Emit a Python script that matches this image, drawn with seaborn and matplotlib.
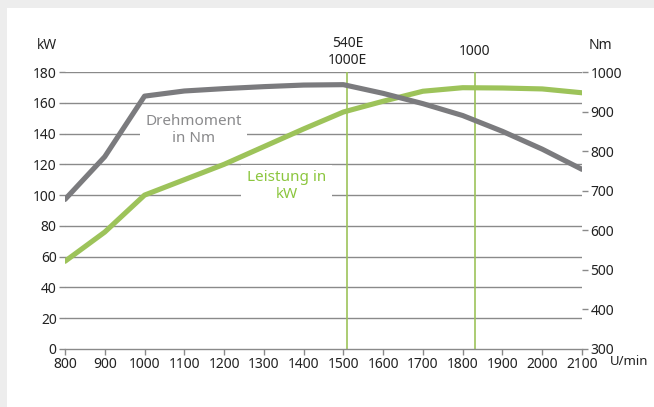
import matplotlib
matplotlib.use("Agg")
import matplotlib.pyplot as plt
import matplotlib.patches as mpatches
import pandas as pd
import seaborn as sns

# Drehzahl (U/min)
rpm = [800, 900, 1000, 1100, 1200, 1300, 1400, 1500, 1600, 1700, 1800, 1900, 2000, 2100]
# Leistung in kW
leistung_kw = [57, 76, 100, 110, 120, 131.5, 143, 154, 161, 167.5, 169.8, 169.6, 169, 166.5]
# Drehmoment in Nm
drehmoment_nm = [678, 786, 939, 952, 958, 963, 967, 968, 946, 920, 890, 850, 805, 754]

kw_ticks = list(range(0, 181, 20))
nm_ticks = list(range(300, 1001, 100))
rpm_ticks = list(range(800, 2101, 100))

# Zapfwellen-Markierungen
marker_rpm = [1510, 1830]
marker_labels = ["540E\n1000E", "1000"]

GREEN = "#9dc35a"
GRAY = "#7b7b7e"
GRID = "#8a8a8a"
TEXT = "#222222"

sns.set_theme(style="white")
plt.rcParams["font.family"] = ["Noto Sans", "DejaVu Sans"]

df = pd.DataFrame({"rpm": rpm, "kw": leistung_kw, "nm": drehmoment_nm})

fig = plt.figure(figsize=(6.54, 4.07), dpi=100)
fig.patch.set_facecolor("#ededed")
fig.patches.append(mpatches.Rectangle((7 / 654, 0), 1, 1 - 8 / 407, transform=fig.transFigure,
                                      facecolor="white", edgecolor="none", zorder=-10))

ax = fig.add_axes([65 / 654, 1 - 349 / 407, 517 / 654, 277 / 407])
ax.set_facecolor("none")
ax2 = ax.twinx()

ax.set_xlim(800, 2100)
ax.set_ylim(0, 180)
ax2.set_ylim(300, 1000)

for y in kw_ticks[1:]:
    ax.axhline(y, color=GRID, lw=1, zorder=1)

for xm in marker_rpm:
    ax.axvline(xm, color=GREEN, lw=1.2, zorder=2)

sns.lineplot(data=df, x="rpm", y="kw", ax=ax, color=GREEN, lw=3.7, zorder=4,
             solid_joinstyle="round")
sns.lineplot(data=df, x="rpm", y="nm", ax=ax2, color=GRAY, lw=3.7, zorder=3,
             solid_joinstyle="round")

for sp in ["top", "left", "right"]:
    ax.spines[sp].set_visible(False)
    ax2.spines[sp].set_visible(False)
ax2.spines["bottom"].set_visible(False)
ax.spines["bottom"].set_color(GRID)
ax.spines["bottom"].set_linewidth(1)

ax.set_xticks(rpm_ticks)
ax.set_yticks(kw_ticks)
ax2.set_yticks(nm_ticks)
ax.tick_params(axis="x", direction="out", length=4, width=1, color=GRID,
               labelsize=10, labelcolor=TEXT, pad=2, bottom=True)
ax.tick_params(axis="y", direction="out", length=4, width=1, color=GRID,
               labelsize=10, labelcolor=TEXT, pad=2, left=True)
ax2.tick_params(axis="y", direction="out", length=4, width=1, color=GRID,
                labelsize=10, labelcolor=TEXT, pad=2, right=True)
ax.set_xlabel("")
ax.set_ylabel("")
ax2.set_ylabel("")

ax.text(-0.035, 1.07, "kW", transform=ax.transAxes, ha="center", va="bottom",
        fontsize=10, color=TEXT)
ax.text(1.035, 1.07, "Nm", transform=ax.transAxes, ha="center", va="bottom",
        fontsize=10, color=TEXT)
ax.text(1.054, -0.045, "U/min", transform=ax.transAxes, ha="left", va="center",
        fontsize=9.5, color=TEXT)

for xm, lab in zip(marker_rpm, marker_labels):
    ax.text(xm, 193, lab, ha="center", va="center", fontsize=10, color=TEXT,
            linespacing=1.25)

box = dict(facecolor="white", edgecolor="none", pad=4)
ax.text(1123, 142.3, "Drehmoment\nin Nm", ha="center", va="center", fontsize=11,
        color="#8a8a8c", bbox=box, zorder=5, linespacing=1.15)
ax.text(1357, 106, "Leistung in\nkW", ha="center", va="center", fontsize=11,
        color="#8cc63f", bbox=box, zorder=5, linespacing=1.15)

fig.savefig("out.png", dpi=100)
